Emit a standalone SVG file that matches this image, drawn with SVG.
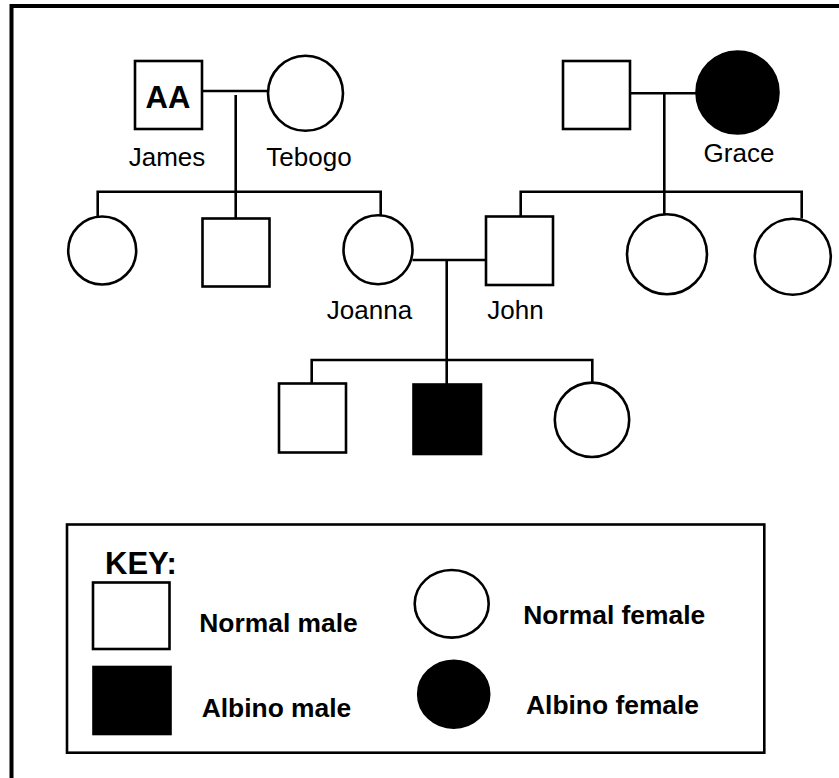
<svg xmlns="http://www.w3.org/2000/svg" width="839" height="778" viewBox="0 0 839 778">
<style>
.n{fill:#fff;stroke:#000;stroke-width:2.6}
.f{fill:#000;stroke:#000;stroke-width:2.6}
.c{fill:none;stroke:#000;stroke-width:2.6}
.lbl{font-family:"Liberation Sans",Arial,sans-serif;font-size:26px;fill:#000;text-anchor:middle}
.key{font-family:"Liberation Sans",Arial,sans-serif;font-size:26.4px;font-weight:bold;fill:#000}
</style>
<rect x="0" y="0" width="839" height="778" fill="#fff"/>
<rect x="11.5" y="6" width="840" height="790" fill="none" stroke="#000" stroke-width="4"/>

<g id="connectors">
<path class="c" d="M202 91 H268"/>
<path class="c" d="M235.7 95 V218.5"/>
<path class="c" d="M97.7 216.5 V191.7 H380.7 V215.5"/>
<path class="c" d="M630 93.3 H697"/>
<path class="c" d="M664.3 93.3 V214.5"/>
<path class="c" d="M520.7 216.5 V191.7 H801.7 V218.5"/>
<path class="c" d="M412.5 260 H486"/>
<path class="c" d="M446.7 260 V384"/>
<path class="c" d="M311.7 383.5 V360 H592.3 V382.5"/>
</g>

<g id="james">
<rect class="n" x="135" y="61" width="67" height="68"/>
<text x="168" y="108" font-family="'Liberation Sans',Arial,sans-serif" font-size="31" font-weight="bold" text-anchor="middle">AA</text>
<text class="lbl" x="167" y="165.7">James</text>
</g>
<g id="tebogo">
<circle class="n" cx="305.5" cy="93.3" r="37.5"/>
<text class="lbl" x="309" y="166">Tebogo</text>
</g>
<g id="grace-husband">
<rect class="n" x="563" y="61" width="67" height="68"/>
</g>
<g id="grace">
<circle class="f" cx="737.5" cy="92.5" r="41"/>
<text class="lbl" x="739" y="162.3">Grace</text>
</g>
<g id="jt-daughter1">
<circle class="n" cx="102.2" cy="250.5" r="34"/>
</g>
<g id="jt-son">
<rect class="n" x="202.5" y="218.5" width="67" height="68"/>
</g>
<g id="joanna">
<circle class="n" cx="378" cy="249.7" r="34.5"/>
<text class="lbl" x="369.5" y="319">Joanna</text>
</g>
<g id="john">
<rect class="n" x="486" y="216.5" width="67" height="68.5"/>
<text class="lbl" x="515.5" y="319">John</text>
</g>
<g id="g-daughter1">
<circle class="n" cx="667" cy="254.2" r="40"/>
</g>
<g id="g-daughter2">
<circle class="n" cx="792.8" cy="256.7" r="38"/>
</g>
<g id="jj-son1">
<rect class="n" x="279" y="383.5" width="67" height="69"/>
</g>
<g id="jj-son2">
<rect class="f" x="413.5" y="384.5" width="67.5" height="69.5"/>
</g>
<g id="jj-daughter">
<circle class="n" cx="592" cy="419.8" r="37.2"/>
</g>

<g id="key">
<rect x="67" y="524.5" width="697.3" height="228.2" fill="none" stroke="#000" stroke-width="2.6"/>
<text x="105" y="574" font-family="'Liberation Sans',Arial,sans-serif" font-size="31" font-weight="bold">KEY:</text>
<rect class="n" x="93" y="582.5" width="76.5" height="66.5"/>
<text class="key" x="199.3" y="632">Normal male</text>
<rect class="f" x="93.5" y="667" width="77" height="67"/>
<text class="key" x="201.7" y="716.7">Albino male</text>
<ellipse class="n" cx="451.7" cy="603.8" rx="37" ry="33.8"/>
<text class="key" x="523.3" y="624">Normal female</text>
<ellipse class="f" cx="453.7" cy="694.2" rx="35.5" ry="33.5"/>
<text class="key" x="526" y="714">Albino female</text>
</g>
</svg>
